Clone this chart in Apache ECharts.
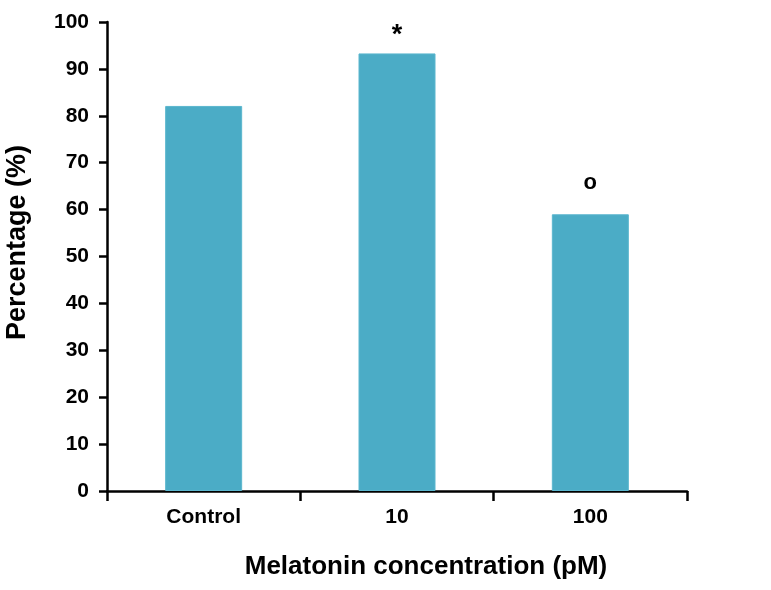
<!DOCTYPE html>
<html>
<head>
<meta charset="utf-8">
<script src="https://cdn.jsdelivr.net/npm/echarts@6/dist/echarts.min.js"></script>
<style>html,body{margin:0;padding:0;background:#fff;}#c{width:771px;height:590px;}</style>
</head>
<body>
<div id="c"></div>
<script>
const categories = ["Control", "10", "100"];
const values = [82.1, 93.3, 59.0];
const marks = ["", "*", "o"];
const yTicks = [0, 10, 20, 30, 40, 50, 60, 70, 80, 90, 100];

const FONT = "Liberation Sans, Arial, sans-serif";
const chart = echarts.init(document.getElementById('c'), null, {renderer: 'canvas'});
chart.setOption({
  backgroundColor: '#ffffff',
  animation: false,
  grid: {left: 107, right: 84, top: 22, bottom: 99, containLabel: false, outerBoundsMode: 'none'},
  xAxis: {
    type: 'category',
    data: categories,
    name: 'Melatonin concentration (pM)',
    nameLocation: 'middle',
    nameGap: 63,
    nameTextStyle: {fontFamily: FONT, fontWeight: 'bold', fontSize: 26, color: '#000', padding: [0, 0, 0, 58]},
    axisLine: {lineStyle: {color: '#000', width: 2.5}},
    axisTick: {show: true, alignWithLabel: false, length: 10, lineStyle: {color: '#000', width: 2.5}},
    axisLabel: {fontFamily: FONT, fontWeight: 'bold', fontSize: 21, color: '#000', margin: 16},
    splitLine: {show: false}
  },
  yAxis: {
    type: 'value',
    min: yTicks[0],
    max: yTicks[yTicks.length - 1],
    interval: 10,
    name: 'Percentage (%)',
    nameLocation: 'middle',
    nameGap: 76,
    nameTextStyle: {fontFamily: FONT, fontWeight: 'bold', fontSize: 27, color: '#000', padding: [0, 0, 0, 28]},
    axisLine: {show: true, lineStyle: {color: '#000', width: 2.5}},
    axisTick: {show: true, length: 8, lineStyle: {color: '#000', width: 2.5}},
    axisLabel: {fontFamily: FONT, fontWeight: 'bold', fontSize: 21, color: '#000', margin: 18},
    splitLine: {show: false}
  },
  series: [{
    type: 'bar',
    data: values.map((v, i) => ({
      value: v,
      label: {
        show: marks[i] !== '',
        position: 'top',
        formatter: marks[i],
        fontFamily: FONT,
        fontWeight: 'bold',
        fontSize: marks[i] === '*' ? 27 : 22,
        color: '#000',
        distance: marks[i] === '*' ? 4 : 20
      }
    })),
    barWidth: 77,
    itemStyle: {color: '#4BACC6', borderColor: '#5BB6CE', borderWidth: 1}
  }]
});
</script>
</body>
</html>
